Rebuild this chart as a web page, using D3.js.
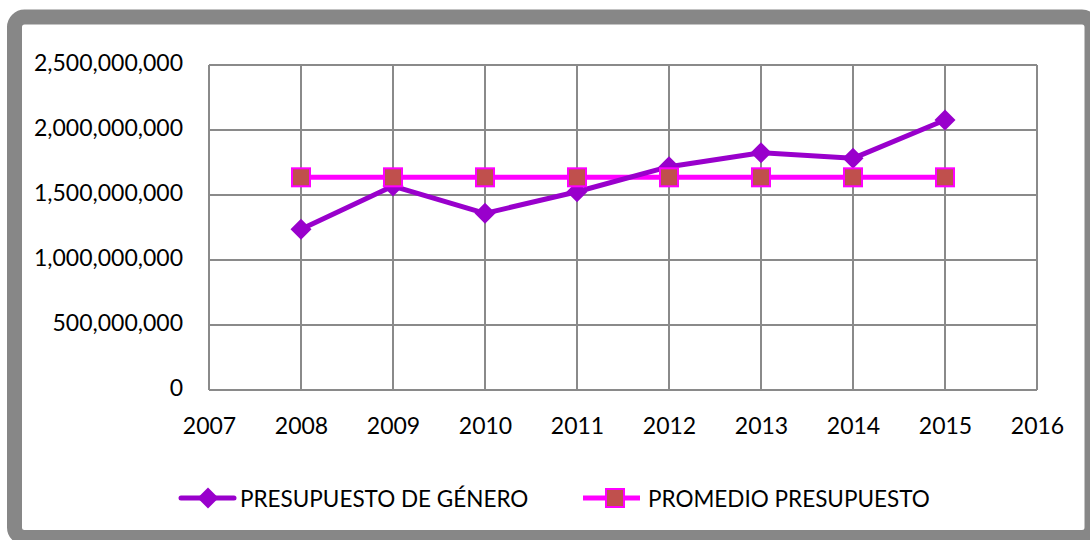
<!DOCTYPE html>
<html><head><meta charset="utf-8">
<script src="https://cdn.jsdelivr.net/npm/d3@7"></script>
<style>html,body{margin:0;padding:0;background:#fff;}svg{display:block;}</style>
</head><body>
<svg id="c" width="1090" height="540"></svg>
<script>
const years = [2008, 2009, 2010, 2011, 2012, 2013, 2014, 2015];
const presupuestoGenero = [1236000000, 1569000000, 1359000000, 1525000000, 1718000000, 1825000000, 1782000000, 2077000000];
const promedioPresupuesto = [1636000000, 1636000000, 1636000000, 1636000000, 1636000000, 1636000000, 1636000000, 1636000000];
const yTicks = [0, 500000000, 1000000000, 1500000000, 2000000000, 2500000000];
const xTicks = [2007, 2008, 2009, 2010, 2011, 2012, 2013, 2014, 2015, 2016];
const seriesNames = ["PRESUPUESTO DE GÉNERO", "PROMEDIO PRESUPUESTO"];

const svg = d3.select("#c");
const font = "Lato, 'Open Sans', sans-serif";
const fs = 23;

// frame
svg.append("rect").attr("x", 14.5).attr("y", 17).attr("width", 1077.5).attr("height", 520.5)
  .attr("rx", 10).attr("fill", "#fff").attr("stroke", "#878787").attr("stroke-width", 15);

const x = d3.scaleLinear().domain([2007, 2016]).range([209, 1037]);
const y = d3.scaleLinear().domain([0, 2500000000]).range([390, 65]);

const g = svg.append("g");
const grid = "#8a8a8a";
g.selectAll(".hg").data(yTicks).enter().append("line")
  .attr("x1", x(2007)).attr("x2", x(2016))
  .attr("y1", d => y(d)).attr("y2", d => y(d))
  .attr("stroke", grid).attr("stroke-width", 2);
g.selectAll(".vg").data(xTicks).enter().append("line")
  .attr("x1", d => x(d)).attr("x2", d => x(d))
  .attr("y1", y(0)).attr("y2", y(2500000000))
  .attr("stroke", grid).attr("stroke-width", 2);

const fmt = d3.format(",");
const yAxis = d3.axisLeft(y).tickValues(yTicks).tickFormat(fmt).tickSize(0).tickPadding(26);
const ya = svg.append("g").attr("transform", `translate(${x(2007)},0)`).call(yAxis);
ya.select(".domain").remove();
ya.selectAll("text").attr("font-family", font).attr("font-size", fs).attr("fill", "#000").attr("dy", "0.24em");

const xAxis = d3.axisBottom(x).tickValues(xTicks).tickFormat(d3.format("d")).tickSize(0).tickPadding(28);
const xa = svg.append("g").attr("transform", `translate(0,${y(0)})`).call(xAxis);
xa.select(".domain").remove();
xa.selectAll("text").attr("font-family", font).attr("font-size", fs).attr("fill", "#000");

const purple = "#9900CC", magenta = "#FF00FF", sqFill = "#C0504D";
const line = d3.line().x((d, i) => x(years[i])).y(d => y(d));

svg.append("path").datum(promedioPresupuesto).attr("d", line)
  .attr("fill", "none").attr("stroke", magenta).attr("stroke-width", 5);
svg.append("path").datum(presupuestoGenero).attr("d", line)
  .attr("fill", "none").attr("stroke", purple).attr("stroke-width", 5).attr("stroke-linejoin", "round");
const diamond = (cx, cy, r) => `M${cx},${cy - r}L${cx + r},${cy}L${cx},${cy + r}L${cx - r},${cy}Z`;
svg.selectAll(".dm").data(presupuestoGenero).enter().append("path")
  .attr("d", (d, i) => diamond(x(years[i]), y(d), 10.5)).attr("fill", purple);
svg.selectAll(".sq").data(promedioPresupuesto).enter().append("rect")
  .attr("x", (d, i) => x(years[i]) - 9).attr("y", d => y(d) - 9)
  .attr("width", 18).attr("height", 18)
  .attr("fill", sqFill).attr("stroke", magenta).attr("stroke-width", 2);

const ly = 498;
const lfs = 22.5;
const l1 = svg.append("g");
l1.append("line").attr("x1", 181).attr("x2", 234).attr("y1", ly).attr("y2", ly)
  .attr("stroke", purple).attr("stroke-width", 5).attr("stroke-linecap", "round");
l1.append("path").attr("d", diamond(208, ly, 10.5)).attr("fill", purple);
l1.append("text").attr("x", 240).attr("y", ly + 8.5).attr("font-family", font).attr("font-size", lfs)
  .attr("fill", "#000").text(seriesNames[0]);
const l2 = svg.append("g");
l2.append("line").attr("x1", 583).attr("x2", 640).attr("y1", ly).attr("y2", ly)
  .attr("stroke", magenta).attr("stroke-width", 5);
l2.append("rect").attr("x", 606).attr("y", ly - 9).attr("width", 18).attr("height", 18)
  .attr("fill", sqFill).attr("stroke", magenta).attr("stroke-width", 2);
l2.append("text").attr("x", 648).attr("y", ly + 8.5).attr("font-family", font).attr("font-size", lfs)
  .attr("fill", "#000").text(seriesNames[1]);
</script>
</body></html>
